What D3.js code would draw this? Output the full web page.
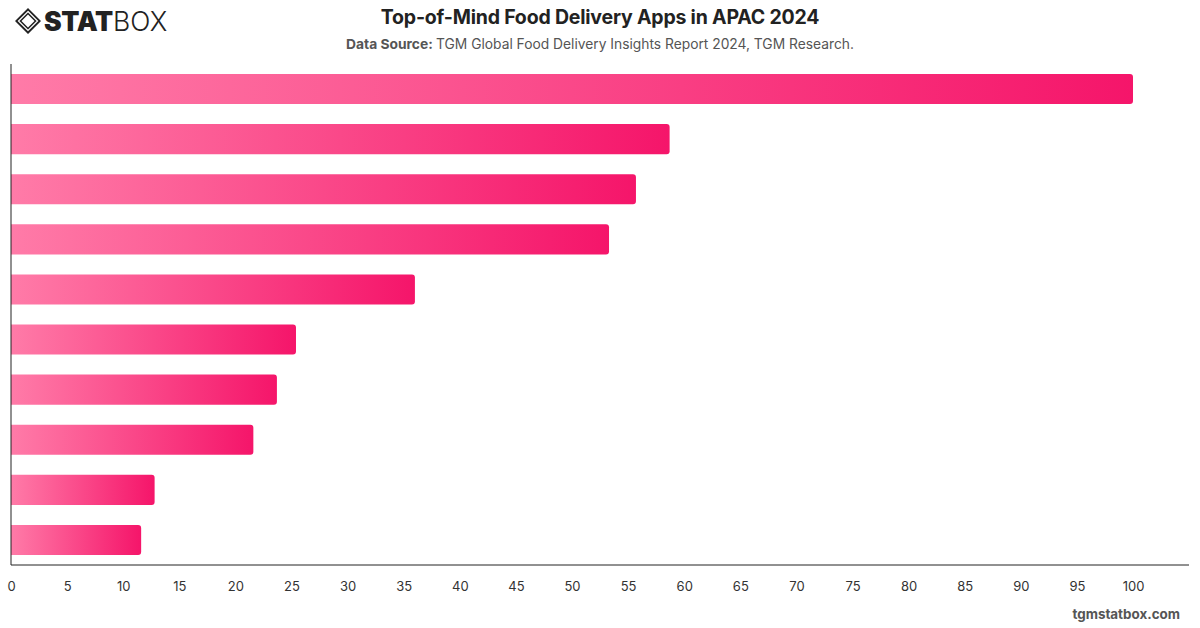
<!DOCTYPE html>
<html>
<head>
<meta charset="utf-8">
<script src="https://cdn.jsdelivr.net/npm/d3@7"></script>
<style>
  body { margin: 0; background: #fff; }
  svg { display: block; font-family: "Inter", "Liberation Sans", sans-serif; }
</style>
</head>
<body>
<div class="wrapper"></div>
<script>
// apps are unlabelled in the source picture, so keep rank ids only
var apps = ["app1", "app2", "app3", "app4", "app5", "app6", "app7", "app8", "app9", "app10"];
var scores = [100, 58.7, 55.7, 53.3, 36.0, 25.4, 23.7, 21.6, 12.8, 11.6];
var xTicks = [0, 5, 10, 15, 20, 25, 30, 35, 40, 45, 50, 55, 60, 65, 70, 75, 80, 85, 90, 95, 100];

var W = 1200, H = 628;
var m = { top: 64, right: 11, bottom: 63, left: 11 };

var svg = d3.select(".wrapper").append("svg")
  .attr("width", W)
  .attr("height", H);

var defs = svg.append("defs");
var grad = defs.append("linearGradient")
  .attr("id", "barGrad")
  .attr("x1", "0%").attr("x2", "100%")
  .attr("y1", "0%").attr("y2", "0%");
grad.append("stop").attr("offset", "0%").attr("stop-color", "#ff7ba8");
grad.append("stop").attr("offset", "100%").attr("stop-color", "#f5156a");

var x = d3.scaleLinear().domain([0, 100]).range([m.left, 1133]);
var y = d3.scaleBand().domain(apps).range([m.top, H - m.bottom]).paddingInner(0.4).paddingOuter(0.2);

// bar with square left edge and rounded right corners
function barPath (x0, y0, w, h, r) {
  var p = d3.path();
  p.moveTo(x0, y0);
  p.lineTo(x0 + w - r, y0);
  p.arcTo(x0 + w, y0, x0 + w, y0 + r, r);
  p.lineTo(x0 + w, y0 + h - r);
  p.arcTo(x0 + w, y0 + h, x0 + w - r, y0 + h, r);
  p.lineTo(x0, y0 + h);
  p.closePath();
  return p.toString();
}

svg.append("g").selectAll("path")
  .data(apps)
  .enter().append("path")
  .attr("fill", "url(#barGrad)")
  .attr("d", function (d, i) {
    return barPath(x(0), y(d), x(scores[i]) - x(0), y.bandwidth(), 3);
  });

// axes
var axisY = H - m.bottom;
svg.append("line")
  .attr("x1", m.left).attr("x2", m.left)
  .attr("y1", m.top).attr("y2", axisY)
  .attr("stroke", "#222").attr("stroke-width", 1);
svg.append("line")
  .attr("x1", m.left).attr("x2", W - m.right)
  .attr("y1", axisY).attr("y2", axisY)
  .attr("stroke", "#222").attr("stroke-width", 1);

var xAxis = svg.append("g")
  .attr("transform", "translate(0," + axisY + ")")
  .call(d3.axisBottom(x).tickValues(xTicks).tickSize(0).tickPadding(17));
xAxis.select(".domain").remove();
xAxis.selectAll("text")
  .attr("fill", "#333")
  .style("font-size", "13px")
  .style("font-family", "Inter, 'Liberation Sans', sans-serif");

// titles
svg.append("text")
  .attr("x", 600).attr("y", 24)
  .attr("text-anchor", "middle")
  .attr("fill", "#222")
  .style("font-size", "19.5px")
  .style("font-weight", "700")
  .style("letter-spacing", "-0.2px")
  .text("Top-of-Mind Food Delivery Apps in APAC 2024");

var sub = svg.append("text")
  .attr("x", 600).attr("y", 49)
  .attr("text-anchor", "middle")
  .attr("fill", "#555")
  .style("font-size", "13.8px");
sub.append("tspan").style("font-weight", "700").text("Data Source: ");
sub.append("tspan").text("TGM Global Food Delivery Insights Report 2024, TGM Research.");

svg.append("text")
  .attr("x", 1180).attr("y", 619)
  .attr("text-anchor", "end")
  .attr("fill", "#555")
  .style("font-size", "13.4px")
  .style("font-weight", "700")
  .text("tgmstatbox.com");

// logo
var logo = svg.append("g").attr("transform", "translate(28,21)");
logo.append("path")
  .attr("d", "M0,-13 L13,0 L0,13 L-13,0 Z M0,-6.5 L6.5,0 L0,6.5 L-6.5,0 Z")
  .attr("fill", "#222").attr("fill-rule", "evenodd");
logo.append("path")
  .attr("d", "M0,-9.5 L9.5,0 L0,9.5 L-9.5,0 Z")
  .attr("fill", "none").attr("stroke", "#fff").attr("stroke-width", 1.2);
var lt = logo.append("text")
  .attr("x", 16).attr("y", 9.5)
  .attr("fill", "#222")
  .style("font-size", "26.5px");
lt.append("tspan").style("font-weight", "900").style("letter-spacing", "-0.3px").text("STAT");
lt.append("tspan").style("font-weight", "300").text("BOX");
</script>
</body>
</html>
